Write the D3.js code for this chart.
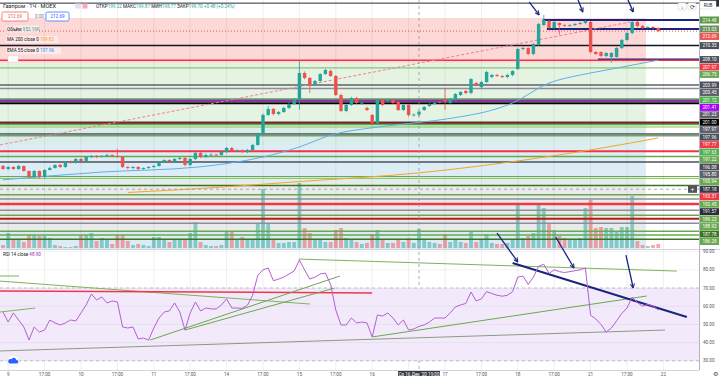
<!DOCTYPE html>
<html>
<head>
<meta charset="utf-8">
<script src="https://cdn.jsdelivr.net/npm/d3@7"></script>
<style>
  body { margin: 0; background: #fff; }
  svg { display: block; font-family: Roboto, "Liberation Sans", sans-serif; }
</style>
</head>
<body>
<div id="chart"></div>
<script>
// ---- candles (hourly, GAZP) ----
const opens = [190.93,190.45,190.77,190.45,190.93,190.13,189.15,190.13,189.15,190.29,
190.61,191.10,190.77,191.58,191.42,192.06,191.74,192.38,192.55,192.38,
192.55,192.71,192.55,192.38,190.77,190.61,190.77,190.45,190.61,190.77,
190.93,191.58,191.90,191.74,192.06,192.22,191.10,192.06,193.03,192.38,
192.71,192.75,192.70,193.19,193.83,193.35,193.40,193.19,193.51,194.32,
196.09,199.16,200.13,199.32,199.64,200.29,200.93,201.58,205.93,205.13,
204.00,204.64,205.77,206.25,205.45,202.38,199.80,200.77,201.90,201.09,
200.29,199.16,197.87,201.58,201.40,201.58,201.26,199.96,200.77,199.16,
199.22,199.96,200.61,200.93,201.26,201.58,201.09,201.58,202.38,203.03,
202.71,204.32,203.67,204.48,205.29,205.61,205.45,205.29,205.61,206.58,
209.80,209.96,209.00,210.45,213.67,214.32,213.19,214.00,213.67,213.60,
213.67,213.84,214.00,214.16,209.32,209.32,208.67,208.51,208.51,209.96,
211.26,212.38,214.16,213.51,213.19,213.35,213.19];
const closes = [190.45,190.77,190.45,190.93,190.13,189.15,190.13,189.15,190.29,190.61,
191.10,190.77,191.58,191.42,192.06,191.74,192.38,192.55,192.38,192.55,
192.71,192.55,192.38,190.77,190.61,190.77,190.45,190.61,190.77,190.93,
191.58,191.90,191.74,192.06,192.22,191.10,192.06,193.03,192.38,192.71,
192.75,192.70,193.19,193.83,193.35,193.40,193.19,193.51,194.32,196.09,
199.16,200.13,199.32,199.64,200.29,200.93,201.58,205.93,205.13,204.00,
204.64,205.77,206.42,205.45,202.38,199.80,200.77,201.90,201.09,201.12,
199.96,197.87,201.58,200.77,201.58,201.09,199.96,200.77,199.16,199.22,
199.70,200.45,200.93,201.09,201.20,201.26,201.74,202.54,202.87,202.71,
204.96,204.00,204.48,206.09,205.61,205.45,205.29,205.61,206.25,209.80,
209.96,209.00,210.61,213.84,214.48,213.19,214.16,213.67,213.60,213.67,
213.84,214.00,214.32,209.32,209.00,208.67,209.16,209.16,209.96,211.26,
212.38,214.16,213.51,213.19,213.35,213.19,212.69];
const highs = [191.1,190.9,190.9,191.1,191.0,190.2,190.3,190.2,190.4,190.8,
191.2,191.3,191.7,191.8,192.2,192.2,192.5,192.7,192.7,192.7,
192.9,192.8,193.7,192.5,190.9,190.9,190.9,190.7,190.9,191.1,
191.7,192.0,192.0,192.2,192.4,192.4,192.2,193.2,193.2,192.9,
193.0,192.9,193.3,194.0,194.0,193.6,193.6,193.7,194.5,196.3,
199.4,200.6,200.3,199.8,200.5,201.2,201.9,208.0,206.2,205.3,
204.8,205.9,206.6,206.5,205.6,202.6,200.9,202.1,202.1,201.4,
200.5,199.3,201.8,201.8,201.8,201.8,201.4,200.9,200.9,199.4,
199.87,200.6,201.1,201.3,201.4,203.5,201.9,202.7,203.0,203.2,
205.1,204.5,204.6,206.3,205.8,205.8,205.6,205.8,206.4,210.0,
210.2,210.1,210.8,214.0,215.3,214.5,214.3,214.1,213.8,213.8,
214.0,214.2,214.5,214.3,209.5,209.4,209.3,209.3,210.1,211.4,
212.5,214.3,214.3,213.7,213.5,213.5,213.3];
const lows = [190.3,190.3,190.3,190.3,190.0,189.0,189.0,188.9,189.0,190.2,
190.5,190.6,190.6,191.3,191.3,191.6,191.6,192.2,192.2,192.3,
192.4,192.4,192.3,190.6,190.4,190.4,190.2,190.3,190.5,190.6,
190.8,191.4,191.6,191.6,191.9,190.9,190.9,191.9,192.2,192.2,
192.5,192.5,192.6,193.0,193.2,193.2,193.0,193.0,193.4,194.2,
195.9,199.0,199.1,199.1,199.5,200.1,200.8,200.0,204.9,202.7,
203.8,204.5,205.6,205.3,202.2,199.6,199.6,200.6,200.9,200.8,
199.8,197.6,197.7,200.6,201.2,200.9,199.8,199.8,198.9,198.9,
198.77,199.8,200.5,200.8,201.0,200.0,200.9,201.4,202.2,202.5,
202.5,203.8,203.5,204.3,205.1,205.3,205.1,205.1,205.4,206.4,
209.6,208.8,208.8,210.3,213.5,213.0,213.0,212.1,213.4,213.4,
213.5,213.7,213.8,209.1,208.8,208.5,208.5,207.6,208.4,209.8,
211.1,212.2,213.3,213.0,213.0,213.0,212.5];
// volume, thousands
const volumes = [150,750,450,450,300,650,650,600,600,500,
150,100,50,50,100,650,650,750,350,500,
400,200,650,650,350,150,200,150,100,550,
550,400,300,450,450,450,750,1300,300,150,
100,100,150,800,800,450,550,400,400,1200,
2950,1200,450,250,250,300,300,3250,1000,750,
400,400,300,300,900,1000,500,400,300,200,
250,700,900,400,250,250,400,300,500,250,
952,400,300,250,200,700,300,400,300,250,
800,300,400,700,250,200,200,250,400,2250,
500,600,750,2250,2000,1250,900,600,500,400,
400,500,2000,2400,1000,1050,1000,1000,800,1050,
1050,2600,350,150,100,150,200];
// RSI 14
const rsi = [56.8,51.3,56.3,52.4,48.6,41.4,48.6,45.8,46.9,52.4,
50.8,49.7,50.8,52.4,51.9,56.3,60.7,66.7,63.4,65.1,
61.8,62.9,62.3,48.6,48.0,48.6,42.0,42.5,41.4,48.0,
53.5,56.8,57.4,61.8,56.8,46.9,56.3,62.3,57.4,59.0,
58.5,58.5,60.7,64.0,59.0,59.0,58.8,60.5,66.0,77.0,
80.0,81.0,74.0,74.9,76.0,77.7,79.3,85.4,79.9,74.9,
76.0,77.7,78.2,72.0,57.9,49.7,49.7,53.5,50.8,51.3,
50.8,43.1,55.2,54.6,56.3,53.5,49.7,52.4,46.9,47.5,
48.9,49.7,51.3,53.5,53.5,53.5,56.3,59.6,60.7,61.5,
67.8,62.9,64.0,68.0,67.0,66.0,65.5,66.0,68.0,76.0,
76.5,72.0,76.0,82.0,83.0,78.0,80.0,79.0,78.5,79.0,
79.5,80.0,81.0,55.0,53.0,50.0,45.8,48.0,52.0,56.0,
59.0,65.0,62.0,60.0,61.0,60.0,58.0];
// moving averages, read at a few bars
const emaBars = [0,19,38,57,63,72,80,86,98,105,111,115,126];
const emaValues = [188.7,189.95,190.8,194.0,195.9,197.2,197.96,198.6,201.1,204.3,205.6,206.25,208.0];
const maBars = [24,38,57,80,96,115,126];
const maValues = [186.66,187.3,188.42,189.82,191.4,193.8,195.45];

// horizontal levels (right axis labels in this order)
const levelPrices = [217.20,214.48,213.03,212.69,210.35,208.10,207.97,206.75,203.99,203.45,
201.72,201.41,201.23,201.00,197.97,197.96,197.77,197.63,197.22,196.08,
195.80,195.94,187.18,193.31,192.45,191.57,189.23,188.93,187.78,186.28,
185.61,184.80,183.80,183.00,182.40,181.70,180.40,179.80,179.10];
const levelFromBars = [null,103.8,104.6,null,null,114.4,null,null,null,null,
null,null,null,null,null,null,null,null,null,null,
null,null,null,null,null,null,null,null,null,null,
null,null,null,null,null,null,null,null,null];
// zones (price edges) drawn up to a bar
const zoneEdges = [214.8,207.55,198.0,194.32,188.35,180.6,177.0];
const zoneEndBar = 123.65;

// drawings: [bar, value, bar, value]
const trendMain = [-0.6,194.32,120.6,214.16];
const topArrows = [[101.2,217.38,103.1,215.29],[110.6,217.71,111.5,215.77],[120.2,217.71,121.2,215.77]];
const rsiLines = [[-0.6,73.8,59,61.2],[-0.6,76.6,3.1,76.6],[-0.6,56.8,6.2,59.0],[-0.6,68.4,71,67.3],
  [-0.6,35.4,127.3,46.9],[28.3,41.4,64.8,76.6],[35,46.9,63.8,70.0],[56.9,85.9,129.6,79.3],
  [71,43.1,123.8,65.6],[98,83.7,131.5,54.1]];
const rsiArrows = [[95,100.2,99,84.3],[106.3,98.0,109.8,81.0],[119.8,88.1,121.2,70.0]];

const rsiTicks = [90,80,70,60,50,40,30];
const timeTickBars = d3.range(1, 128, 7);
const timeTickLabels = ["9","17:00","10","17:00","11","17:00","14","17:00","15","17:00",
  "16","17:00","17","17:00","18","17:00","21","17:00","22"];
const crossBar = 80, crossPrice = 187.18;

// ---- styles ----
const up = "#26a69a", down = "#ef5350", navy = "#1a237e";
const zoneColors = ["#fcd9d7","#e5f3e3","#d9eee8","#ddedf6","#e9eaea","#dcebf4"];
const levelLine = ["#2a2e39",navy,navy,"#ef5350","#131722",navy,"#f23645","#7cb35b","#5d606b","#8c8f99",
  "#4caf50","#9c27b0","#5d606b","#000","#8c8f99","#2a2e39","#b71c1c","#4caf50","#8bc34a","#4a4f5a",
  "#8c8f99","#6aa84f",null,"#f23645","#6aa84f","#4a4f5a","#6aa84f","#8bc34a","#38761d","#6aa84f",
  "#8c8f99","#f23645","#8c8f99","#6aa84f","#b71c1c","#8c8f99","#6aa84f","#6aa84f","#38761d"];
const levelLabel = ["#2a2e39","#5b9a45","#6a8f5a","#ef5350","#4a4f5a","#4a4f5a","#f23645","#6aa84f","#4a4f5a","#5d606b",
  "#4caf50","#aa00ff","#5d606b","#000","#5d606b","#4a4f5a","#f23645","#4caf50","#6aa84f","#4a4f5a",
  "#5d606b","#6aa84f","#363a45","#f23645","#6aa84f","#2a2e39","#6aa84f","#6aa84f","#38761d","#6aa84f",
  "#5d606b","#f23645","#5d606b","#6aa84f","#b71c1c","#5d606b","#6aa84f","#6aa84f","#38761d"];
const levelWidth = [1,2,2,1,1.5,2,1.5,1,1.5,1.5,
  1.5,3,1.5,1.5,1.5,1.5,2,1.5,1,1.5,
  1.5,1,0,2,1.5,1.5,1,1,1.5,1.5,
  1.5,2.5,1.5,1.5,2,1.5,1.5,1.5,1.5];
const rsiLineColors = ["#7cb35b","#7cb35b","#7cb35b","#f23645","#8a9a80","#6aa84f","#6aa84f","#7cb35b","#6aa84f",navy];

const plotRight = 699;
const svg = d3.select("#chart").append("svg").attr("width", 720).attr("height", 376);
svg.append("rect").attr("width", 720).attr("height", 376).attr("fill", "#fff");

// scales
const x = d3.scaleLinear().domain([0, 126]).range([3, 658.2]);
const y = d3.scaleLinear().domain([177.7, 214.48]).range([248, 20]);
const yv = d3.scaleLinear().domain([0, 3500]).range([248, 178]);
const yr = d3.scaleLinear().domain([30, 90]).range([360.8, 251.6]);

const defs = svg.append("defs");
defs.append("clipPath").attr("id", "clipMain").append("rect").attr("width", plotRight).attr("height", 249);
defs.append("clipPath").attr("id", "clipRsi").append("rect").attr("y", 250).attr("width", plotRight).attr("height", 120);
defs.append("marker").attr("id", "arr").attr("viewBox", "0 0 10 10").attr("refX", 9).attr("refY", 5)
  .attr("markerWidth", 4).attr("markerHeight", 4).attr("orient", "auto")
  .append("path").attr("d", "M1,1 L9,5 L1,9").attr("fill", "none").attr("stroke", navy).attr("stroke-width", 2);

// ---------- main pane ----------
const main = svg.append("g").attr("clip-path", "url(#clipMain)");

// zones
zoneEdges.slice(0, -1).forEach((top, i) => {
  main.append("rect")
    .attr("x", 0).attr("width", x(zoneEndBar))
    .attr("y", y(top)).attr("height", y(zoneEdges[i + 1]) - y(top))
    .attr("fill", zoneColors[i]);
});

// vertical grid
svg.append("g").selectAll("line").data(timeTickBars).join("line")
  .attr("x1", d => x(d)).attr("x2", d => x(d)).attr("y1", 0).attr("y2", 370)
  .attr("stroke", "rgba(42,46,57,0.07)");

// volume
main.selectAll(".vol").data(volumes).join("rect")
  .attr("x", (d, i) => x(i) - 1.9).attr("width", 3.8)
  .attr("y", d => yv(d)).attr("height", d => 248 - yv(d))
  .attr("fill", (d, i) => closes[i] >= opens[i] ? "rgba(38,166,154,0.5)" : "rgba(239,83,80,0.5)");

// horizontal levels
levelPrices.forEach((p, i) => {
  if (!levelLine[i]) return;
  main.append("line")
    .attr("x1", levelFromBars[i] == null ? 0 : x(levelFromBars[i])).attr("x2", plotRight)
    .attr("y1", y(p)).attr("y2", y(p))
    .attr("stroke", levelLine[i]).attr("stroke-width", levelWidth[i])
    .attr("stroke-dasharray", p === closes[closes.length - 1] ? "1,2" : null);
});

// dashed trend
main.append("line")
  .attr("x1", x(trendMain[0])).attr("y1", y(trendMain[1]))
  .attr("x2", x(trendMain[2])).attr("y2", y(trendMain[3]))
  .attr("stroke", "#f07d95").attr("stroke-width", 1).attr("stroke-dasharray", "3,2");

// MA 200 and EMA 55
const lineGen = d3.line().x(d => x(d[0])).y(d => y(d[1])).curve(d3.curveMonotoneX);
main.append("path").attr("d", lineGen(d3.zip(maBars, maValues)))
  .attr("fill", "none").attr("stroke", "#f5a623").attr("stroke-width", 1);
main.append("path").attr("d", lineGen(d3.zip(emaBars, emaValues)))
  .attr("fill", "none").attr("stroke", "#5eb0ea").attr("stroke-width", 1);

// candles
const idx = d3.range(opens.length);
const col = i => closes[i] >= opens[i] ? up : down;
main.selectAll(".wick").data(idx).join("line")
  .attr("x1", i => x(i)).attr("x2", i => x(i))
  .attr("y1", i => y(highs[i])).attr("y2", i => y(lows[i]))
  .attr("stroke", col).attr("stroke-width", 0.8);
main.selectAll(".body").data(idx).join("rect")
  .attr("x", i => x(i) - 1.7).attr("width", 3.4)
  .attr("y", i => y(Math.max(opens[i], closes[i])))
  .attr("height", i => Math.max(0.8, Math.abs(y(opens[i]) - y(closes[i]))))
  .attr("fill", col);

// crosshair
svg.append("line").attr("x1", x(crossBar)).attr("x2", x(crossBar)).attr("y1", 0).attr("y2", 370)
  .attr("stroke", "#9598a1").attr("stroke-dasharray", "3,3").attr("stroke-width", 0.8);
main.append("line").attr("x1", 0).attr("x2", plotRight).attr("y1", y(crossPrice)).attr("y2", y(crossPrice))
  .attr("stroke", "#9598a1").attr("stroke-dasharray", "3,3").attr("stroke-width", 0.8);

// arrows at the top
topArrows.forEach(a => {
  svg.append("line").attr("x1", x(a[0])).attr("y1", y(a[1])).attr("x2", x(a[2])).attr("y2", y(a[3]))
    .attr("stroke", navy).attr("stroke-width", 1.3).attr("marker-end", "url(#arr)");
});

// pane separator
svg.append("line").attr("x1", 0).attr("x2", 720).attr("y1", 249.5).attr("y2", 249.5).attr("stroke", "#d1d4dc");

// ---------- RSI pane ----------
const rp = svg.append("g").attr("clip-path", "url(#clipRsi)");
rp.append("rect").attr("x", 0).attr("width", plotRight).attr("y", yr(70)).attr("height", yr(30) - yr(70))
  .attr("fill", "#f2eafb");
rp.selectAll(".hg").data(rsiTicks).join("line")
  .attr("x1", 0).attr("x2", plotRight).attr("y1", d => yr(d)).attr("y2", d => yr(d))
  .attr("stroke", "rgba(42,46,57,0.06)");
rp.selectAll(".dl").data([70, 30]).join("line")
  .attr("x1", 0).attr("x2", plotRight).attr("y1", d => yr(d)).attr("y2", d => yr(d))
  .attr("stroke", "#b8b0c8").attr("stroke-dasharray", "3,3").attr("stroke-width", 0.8);
rsiLines.forEach((l, i) => {
  rp.append("line").attr("x1", x(l[0])).attr("y1", yr(l[1])).attr("x2", x(l[2])).attr("y2", yr(l[3]))
    .attr("stroke", rsiLineColors[i]).attr("stroke-width", i === 9 ? 2 : (i === 3 ? 1.5 : 1));
});
rp.append("path")
  .attr("d", d3.line().x((d, i) => x(i)).y(d => yr(d))(rsi))
  .attr("fill", "none").attr("stroke", "#b45fd0").attr("stroke-width", 1);
rsiArrows.forEach(a => {
  svg.append("line").attr("x1", x(a[0])).attr("y1", yr(a[1])).attr("x2", x(a[2])).attr("y2", yr(a[3]))
    .attr("stroke", navy).attr("stroke-width", 1.3).attr("marker-end", "url(#arr)");
});

// ---------- right axis ----------
svg.append("line").attr("x1", plotRight + 0.5).attr("x2", plotRight + 0.5).attr("y1", 0).attr("y2", 370)
  .attr("stroke", "#b2b5be");
const ax = svg.append("g");
let prevY = -Infinity;
levelPrices.forEach((p, i) => {
  const ly = Math.max(y(p), prevY + 7.45);
  prevY = ly;
  if (ly + 3.5 > 249) return; // labels pushed below the pane are hidden
  ax.append("rect").attr("x", plotRight + 1).attr("y", ly - 3.5).attr("width", 19).attr("height", 7)
    .attr("fill", levelLabel[i]);
  if (ly < 10) return; // top label sits under the currency button
  ax.append("text").attr("x", plotRight + 10.5).attr("y", ly + 1.6).attr("text-anchor", "middle")
    .attr("font-size", 4.6).attr("fill", "#fff").text(p.toFixed(2));
  if (p === crossPrice) {
    ax.append("rect").attr("x", 688).attr("y", ly - 3.5).attr("width", 9).attr("height", 7).attr("fill", "#50535e");
    ax.append("text").attr("x", 692.5).attr("y", ly + 2).attr("text-anchor", "middle")
      .attr("font-size", 6).attr("fill", "#fff").text("+");
  }
});
svg.selectAll(".rt").data(rsiTicks).join("text")
  .attr("x", 703).attr("y", d => yr(d) + 1.6).attr("font-size", 4.6).attr("fill", "#50535e")
  .text(d => d.toFixed(2));

// ---------- time axis ----------
svg.append("line").attr("x1", 0).attr("x2", plotRight).attr("y1", 370.5).attr("y2", 370.5).attr("stroke", "#d1d4dc");
const visibleTicks = timeTickBars.map((b, i) => [b, timeTickLabels[i]])
  .filter(d => Math.abs(x(d[0]) - x(crossBar)) > 26);
svg.selectAll(".tt").data(visibleTicks).join("text")
  .attr("x", d => x(d[0])).attr("y", 375.6).attr("text-anchor", "middle")
  .attr("font-size", 4.6).attr("fill", "#50535e")
  .text(d => d[1]);
svg.append("rect").attr("x", x(crossBar) - 21).attr("y", 371).attr("width", 42).attr("height", 6).attr("fill", "#363a45");
svg.append("text").attr("x", x(crossBar)).attr("y", 375.6).attr("text-anchor", "middle")
  .attr("font-size", 4.6).attr("fill", "#fff").text("Ср 16 Дек '20   19:00");
svg.append("text").attr("x", 713).attr("y", 375.6).attr("font-size", 5.5).attr("fill", "#50535e").text("⚙");

// ---------- legend ----------
const lg = svg.append("g").attr("font-size", 4.6);
lg.append("text").attr("x", 3).attr("y", 7.8).attr("font-size", 5.6).attr("fill", "#131722").text("Газпром · 1Ч · MOEX");
lg.append("rect").attr("x", 75).attr("y", 3.5).attr("width", 6).attr("height", 5).attr("fill", "#e0e3eb");
lg.append("rect").attr("x", 82.5).attr("y", 3.5).attr("width", 5).attr("height", 5).attr("fill", "#f7a9b5");
const ohlc = lg.append("text").attr("x", 96).attr("y", 7.6);
[["ОТКР", "199.22"], ["МАКС", "199.87"], ["МИН", "198.77"], ["ЗАКР", "199.70"]].forEach(([k, v]) => {
  ohlc.append("tspan").attr("fill", "#131722").text(k);
  ohlc.append("tspan").attr("fill", up).text(v + " ");
});
ohlc.append("tspan").attr("fill", up).text("+0.48 (+0.24%)");

lg.append("rect").attr("x", 2).attr("y", 12).attr("width", 26).attr("height", 9).attr("rx", 1.5)
  .attr("fill", "#fff").attr("stroke", "#ef5350").attr("stroke-width", 0.7);
lg.append("text").attr("x", 15).attr("y", 18).attr("text-anchor", "middle").attr("fill", "#ef5350").text("212.69");
lg.append("text").attr("x", 35).attr("y", 18).attr("fill", "#787b86").text("0.00");
lg.append("rect").attr("x", 46).attr("y", 12).attr("width", 23).attr("height", 9).attr("rx", 1.5)
  .attr("fill", "#fff").attr("stroke", "#2962ff").attr("stroke-width", 0.7);
lg.append("text").attr("x", 57.5).attr("y", 18).attr("text-anchor", "middle").attr("fill", "#2962ff").text("212.69");

[["Объём", "952.19K", up, 30.5, 33], ["MA 200 close 0", "189.82", "#ff9800", 41, 52],
 ["EMA 55 close 0", "197.96", "#2196f3", 52.3, 55]].forEach(([k, v, c, yy, w]) => {
  lg.append("rect").attr("x", 6).attr("y", yy - 5).attr("width", w).attr("height", 7).attr("fill", "rgba(255,255,255,0.45)");
  const t = lg.append("text").attr("x", 7).attr("y", yy);
  t.append("tspan").attr("fill", "#131722").text(k + " ");
  t.append("tspan").attr("fill", c).text(v);
});
lg.append("rect").attr("x", 8).attr("y", 56).attr("width", 10).attr("height", 6).attr("rx", 1)
  .attr("fill", "#fff").attr("stroke", "#e0e3eb").attr("stroke-width", 0.5);

const rl = lg.append("text").attr("x", 3).attr("y", 255.8);
rl.append("tspan").attr("fill", "#131722").text("RSI 14 close ");
rl.append("tspan").attr("fill", "#9c27b0").text("48.90");

// ---------- buttons and icons ----------
[["↓", 678], ["⟳", 688]].forEach(([s, bx]) => {
  svg.append("rect").attr("x", bx).attr("y", 3).attr("width", 8).attr("height", 7).attr("rx", 1)
    .attr("fill", "#fff").attr("stroke", "#d1d4dc").attr("stroke-width", 0.6);
  svg.append("text").attr("x", bx + 4).attr("y", 8.5).attr("text-anchor", "middle").attr("font-size", 5.5)
    .attr("fill", "#131722").text(s);
});
svg.append("rect").attr("x", 700).attr("y", 1).attr("width", 16).attr("height", 8).attr("fill", "#fff")
  .attr("stroke", "#d1d4dc").attr("stroke-width", 0.5);
svg.append("text").attr("x", 708).attr("y", 7).attr("text-anchor", "middle").attr("font-size", 4.6)
  .attr("fill", "#131722").text("RUB");
svg.append("circle").attr("cx", 13).attr("cy", 361).attr("r", 6).attr("fill", "#fff")
  .attr("stroke", "#e0e3eb").attr("stroke-width", 0.6);
svg.append("path").attr("d", "M9.5,363.5 h7 a1.8,1.8 0 0 0 0,-3.6 a2.8,2.8 0 0 0 -5.2,-0.6 a1.9,1.9 0 0 0 -1.8,4.2 z")
  .attr("fill", "#2962ff");
</script>
</body>
</html>
